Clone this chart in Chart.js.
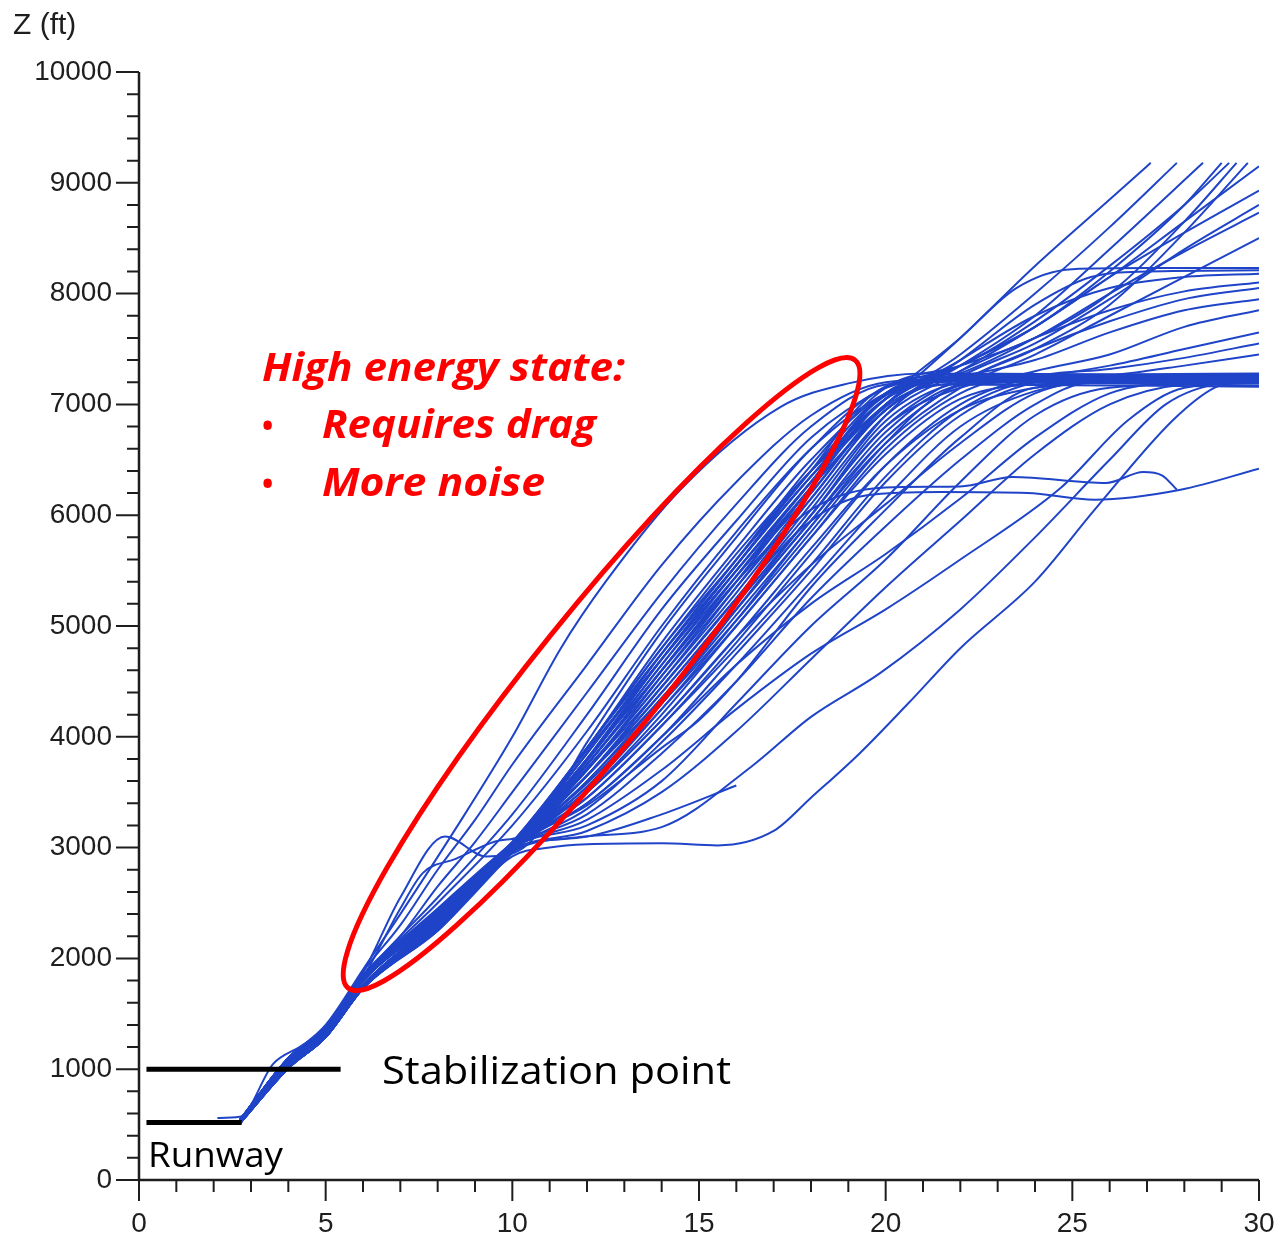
<!DOCTYPE html>
<html>
<head>
<meta charset="utf-8">
<script src="https://cdn.jsdelivr.net/npm/chart.js@4.4.1/dist/chart.umd.min.js"></script>
<style>
  html, body { margin: 0; padding: 0; background: #fff; }
  #wrap { width: 1284px; height: 1240px; }
</style>
</head>
<body>
<div id="wrap"><canvas id="approachChart" width="1284" height="1240"></canvas></div>
<script>
// axis tick labels
const xTicks = [0, 5, 10, 15, 20, 25, 30];
const zTicks = [0, 1000, 2000, 3000, 4000, 5000, 6000, 7000, 8000, 9000, 10000];

// trajectories, each one a list of [distance, altitude ft]

// main bundle, levelling off at ~7200 ft
const levelOff = [
  [[2.7,520],[4,1040],[5,1320],[6,1760],[8,2300],[10,2980],[12,3700],[14,4450],[16,5250],[18,6050],[20,6900],[21,7150],[23,7200],[26,7190],[30,7170]],
  [[2.7,530],[4,1070],[5,1350],[6,1800],[8,2380],[10,3020],[12,3800],[14,4600],[16,5400],[18,6250],[20,7050],[21.5,7220],[25,7230],[30,7210]],
  [[2.7,510],[4,1010],[5,1290],[6,1730],[8,2250],[10,2950],[12,3600],[14,4300],[16,5050],[18,5850],[20,6650],[21.5,7100],[23,7230],[27,7240],[30,7230]],
  [[2.7,540],[4,1100],[5,1380],[6,1830],[8,2420],[10,3050],[12,3900],[14,4800],[16,5600],[18,6400],[19.5,7050],[21,7250],[25,7260],[30,7250]],
  [[2.7,520],[4,1040],[5,1320],[6,1760],[8,2320],[10,3000],[12,3650],[14,4350],[16,5150],[18,5950],[20,6750],[22,7170],[24,7200],[30,7190]],
  [[2.7,530],[4,1070],[5,1350],[6,1800],[8,2400],[10,3000],[12,3550],[14,4250],[16,5000],[18,5800],[20,6550],[22,7050],[24,7180],[27,7200],[30,7200]],
  [[2.7,510],[4,1010],[5,1290],[6,1730],[8,2280],[10,2990],[12,3850],[14,4700],[16,5500],[18,6300],[19.5,6950],[21,7200],[24,7210],[30,7230]],
  [[2.7,520],[4,1040],[5,1320],[6,1760],[8,2350],[10,3010],[12,3750],[14,4550],[16,5350],[18,6150],[20,6950],[22,7260],[26,7270],[30,7280]],
  [[2.7,540],[4,1100],[5,1380],[6,1830],[8,2450],[10,3040],[12,3500],[14,4150],[16,4900],[18,5700],[20,6450],[22,6950],[24,7150],[26,7200],[30,7190]],
  [[2.7,530],[4,1070],[5,1350],[6,1800],[8,2360],[10,3000],[12,3780],[14,4650],[16,5450],[18,6200],[20,6980],[21.5,7180],[30,7160]],
  [[2.7,510],[4,1010],[5,1290],[6,1730],[8,2300],[10,2980],[12,3350],[14,3950],[16,4650],[18,5400],[20,6150],[22,6800],[24,7120],[26,7210],[30,7220]],
  [[2.7,520],[4,1040],[5,1320],[6,1760],[8,2330],[10,3000],[12,3450],[14,4100],[16,4800],[18,5550],[20,6350],[22,6950],[24,7200],[30,7210]],
  [[2.7,530],[4,1070],[5,1350],[6,1800],[8,2380],[10,3020],[12,3900],[14,4750],[16,5550],[18,6350],[20,7100],[21,7230],[25,7250],[30,7270]],
  [[2.7,540],[4,1100],[5,1380],[6,1830],[8,2400],[10,3030],[12,3650],[14,4400],[16,5200],[18,6000],[20,6800],[22,7150],[24,7240],[30,7240]]
];

// tracks that keep climbing to the top right
const climbers = [
  [[2.7,520],[4,1040],[5,1320],[6,1760],[8,2350],[10,3000],[12,3900],[14,4800],[16,5650],[18,6400],[20,7000],[22,7600],[24,8250],[26,8850],[27.1,9180]],
  [[2.7,530],[4,1070],[5,1350],[6,1800],[8,2400],[10,3020],[12,3800],[14,4700],[16,5550],[18,6350],[20,7000],[22,7450],[24,8000],[26,8600],[27.8,9180]],
  [[2.7,510],[4,1010],[5,1290],[6,1730],[8,2300],[10,2990],[12,3700],[14,4550],[16,5400],[18,6250],[20,6950],[22,7350],[24,7800],[26,8400],[28.5,9180]],
  [[2.7,520],[4,1040],[5,1320],[6,1760],[8,2320],[10,3000],[12,3750],[14,4600],[16,5450],[18,6300],[20,7050],[22,7350],[24,7700],[26,8200],[28,8800],[29,9180]],
  [[2.7,540],[4,1100],[5,1380],[6,1830],[8,2420],[10,3040],[12,3850],[14,4750],[16,5600],[18,6450],[20,7150],[22,7350],[24,7600],[26,8000],[28,8650],[29.4,9180]],
  [[2.7,530],[4,1070],[5,1350],[6,1800],[8,2380],[10,3010],[12,3600],[14,4350],[16,5150],[18,5950],[20,6700],[22,7200],[24,7500],[26,7900],[28,8550],[29.7,9180]],
  [[2.7,510],[4,1010],[5,1290],[6,1730],[8,2280],[10,2980],[12,3650],[14,4450],[16,5250],[18,6100],[20,6900],[22,7300],[24,7700],[26,8150],[28,8650],[30,9150]],
  [[2.7,520],[4,1040],[5,1320],[6,1760],[8,2340],[10,3000],[12,3720],[14,4500],[16,5350],[18,6200],[20,7000],[22,7350],[24,7700],[26,8150],[28,8550],[30,8930]],
  [[2.7,530],[4,1070],[5,1350],[6,1800],[8,2390],[10,3010],[12,3580],[14,4300],[16,5150],[18,6000],[20,6800],[22,7250],[24,7550],[26,7950],[28,8400],[30,8800]],
  [[2.7,540],[4,1100],[5,1380],[6,1830],[8,2430],[10,3040],[12,3880],[14,4700],[16,5500],[18,6300],[20,7100],[22,7280],[24,7600],[26,8000],[28,8380],[30,8730]],
  [[2.7,510],[4,1010],[5,1290],[6,1730],[8,2270],[10,2970],[12,3520],[14,4250],[16,5050],[18,5900],[20,6650],[22,7150],[24,7450],[26,7800],[28,8150],[30,8500]]
];

// tracks ending between 7400 and 8250 ft
const upperFan = [
  [[2.7,520],[4,1040],[5,1320],[6,1760],[8,2340],[10,3000],[12,3800],[14,4650],[16,5500],[18,6300],[20,7000],[22,7400],[24,7800],[26,8050],[28,8150],[30,8180]],
  [[2.7,530],[4,1070],[5,1350],[6,1800],[8,2390],[10,3010],[12,3700],[14,4500],[16,5300],[18,6150],[20,6950],[22,7300],[24,7600],[26,7850],[28,8020],[30,8100]],
  [[2.7,510],[4,1010],[5,1290],[6,1730],[8,2290],[10,2980],[12,3550],[14,4300],[16,5100],[18,5900],[20,6700],[22,7200],[24,7500],[26,7750],[28,7950],[30,8050]],
  [[2.7,540],[4,1100],[5,1380],[6,1830],[8,2430],[10,3040],[12,3800],[14,4700],[16,5550],[18,6400],[20,7100],[22,7250],[24,7400],[26,7650],[28,7850],[30,7950]],
  [[2.7,520],[4,1040],[5,1320],[6,1760],[8,2310],[10,2990],[12,3500],[14,4200],[16,5000],[18,5800],[20,6600],[22,7100],[24,7300],[26,7450],[28,7700],[30,7850]],
  [[2.7,530],[4,1070],[5,1350],[6,1800],[8,2370],[10,3000],[12,3650],[14,4400],[16,5200],[18,6000],[20,6850],[22,7200],[24,7250],[26,7350],[28,7500],[30,7650]],
  [[2.7,510],[4,1010],[5,1290],[6,1730],[8,2260],[10,2970],[12,3450],[14,4100],[16,4850],[18,5650],[20,6450],[22,7000],[24,7250],[26,7320],[28,7420],[30,7550]],
  [[2.7,520],[4,1040],[5,1320],[6,1760],[8,2330],[10,3000],[12,3400],[14,4000],[16,4750],[18,5500],[20,6300],[22,6900],[24,7200],[26,7260],[28,7350],[30,7450]],
  [[2.7,530],[4,1070],[5,1350],[6,1800],[8,2400],[10,3020],[12,3850],[14,4750],[16,5600],[18,6400],[20,7050],[22,7600],[23.5,8050],[25,8220],[27,8230],[30,8230]],
  [[2.7,540],[4,1100],[5,1380],[6,1830],[8,2440],[10,3050],[12,3750],[14,4600],[16,5450],[18,6250],[20,6950],[22,7400],[24,7900],[25.5,8150],[27,8200],[30,8210]]
];

// steep, high energy tracks inside the red ellipse
const highEnergy = [
  [[2.7,540],[4,1100],[5,1400],[6,1900],[7,2400],[8.5,3180],[10,4000],[11.3,4800],[12.5,5400],[14.5,6230],[17.2,6980],[19,7190],[21,7280],[23,7260],[26,7250],[30,7260]],
  [[2.7,530],[4,1080],[5,1380],[6,1870],[7,2550],[8.2,3100],[9.3,2920],[10.3,3000],[12,3800],[14,4700],[16,5550],[18,6350],[20,7050],[22,7220],[30,7230]],
  [[2.7,540],[4,1100],[5,1380],[6,1830],[7,2450],[7.6,2770],[8.5,2900],[9.5,3050],[10.5,3150],[12,3950],[14,4950],[16,5800],[18,6600],[20,7150],[22,7230],[30,7220]],
  [[2.7,530],[4,1080],[5,1370],[6,1880],[7,2300],[8,2800],[9,3250],[10,3750],[12,4650],[14,5550],[16,6300],[18,6900],[20,7200],[22,7230],[30,7210]],
  [[2.7,520],[4,1060],[5,1350],[6,1850],[7,2200],[8,2650],[9,3050],[10,3500],[12,4400],[14,5300],[16,6100],[18,6800],[20,7180],[23,7220],[30,7200]],
  [[2.7,530],[4,1070],[5,1350],[6,1830],[8,2550],[10,3300],[12,4200],[14,5150],[16,5950],[18,6700],[20,7150],[22,7350],[24,7750],[26,8250],[28,8800],[29.2,9180]],
  [[2.7,520],[4,1050],[5,1330],[6,1820],[8,2500],[10,3200],[12,4050],[14,5000],[16,5850],[18,6600],[20,7100],[22,7280],[30,7260]],
  [[2.1,560],[2.7,570],[3.6,1050],[4.3,1200],[5,1360],[6,1800],[8,2420],[10,3050],[12,3900],[14,4850],[16,5700],[18,6500],[20,7100],[22,7250],[24,7260],[30,7250]]
];

// slower tracks fanning out below the bundle
const lowFan = [
  [[2.7,510],[4,1010],[5,1290],[6,1730],[8,2250],[10,2920],[11,3000],[12,3030],[14,3040],[15.5,3020],[17,3150],[18,3450],[19.3,3850],[20.6,4300],[22,4800],[24,5400],[25.6,6050],[27.7,6860],[28.8,7150],[30,7250]],
  [[2.7,520],[4,1040],[5,1320],[6,1760],[8,2280],[10,2960],[11.8,3095],[14,3185],[16.4,3730],[18,4180],[19.85,4575],[22,5150],[24,5800],[26,6500],[27.5,7000],[29,7200],[30,7230]],
  [[2.7,530],[4,1070],[5,1350],[6,1800],[8,2350],[10,2990],[12,3250],[14,3700],[16,4250],[18,4750],[20,5150],[22,5600],[24.7,6250],[26.5,6860],[28,7150],[30,7200]],
  [[2.7,540],[4,1100],[5,1380],[6,1830],[8,2400],[10,3000],[12,3400],[14,4000],[16,4650],[18,5200],[20,5650],[22,6150],[24,6700],[26,7100],[28,7200],[30,7210]],
  [[2.7,520],[4,1040],[5,1320],[6,1760],[8,2320],[10,3000],[12,3500],[14,4150],[16,4900],[18,5550],[20,6100],[22,6650],[24,7100],[26,7220],[30,7230]],
  [[2.7,510],[4,1010],[5,1290],[6,1730],[8,2270],[10,2970],[12,3150],[14,3500],[16,4050],[18,4700],[20,5350],[22,5950],[24,6550],[26,7000],[28,7180],[30,7200]],
  [[2.7,530],[4,1070],[5,1350],[6,1800],[8,2360],[10,3000],[12,3300],[14,3850],[16,4500],[18,5250],[20,5900],[22,6500],[24,7000],[25.5,7200],[30,7220]],
  [[2.7,520],[4,1040],[5,1320],[6,1760],[8,2330],[10,3000],[12,3200],[14,3600],[16,4300],[18,5000],[20,5600],[22,6300],[24,6900],[26,7150],[30,7200]],
  [[2.7,540],[4,1100],[5,1380],[6,1830],[8,2410],[10,3020],[12,3380],[14,3900],[15,4150],[16,4500],[18,5350],[20,6050],[22,6700],[24,7150],[30,7230]],
  [[2.7,510],[4,1010],[5,1290],[6,1730],[8,2290],[10,2990],[12,3100],[14,3300],[16,3560]]
];

// two tracks that hold near 6200 ft
const midLevel = [
  [[2.7,520],[4,1040],[5,1320],[6,1760],[8,2340],[10,3000],[12,3650],[14,4450],[16,5250],[18,5950],[19.5,6180],[21.5,6210],[23.8,6200],[25.6,6140],[27.9,6230],[30,6420]],
  [[2.7,540],[4,1100],[5,1380],[6,1830],[8,2420],[10,3030],[12,3750],[14,4600],[16,5400],[18,6050],[20,6250],[22,6260],[23.4,6345],[25.9,6290],[26.9,6390],[27.4,6360],[27.8,6230]]
];

// annotation marks, in data units
const stabilizationBar = { from: 0.2, to: 5.4, z: 1000 };
const runwayBar = { from: 0.2, to: 2.75, z: 520 };
const ellipseTips = [[5.6, 1733], [19.18, 7400]];

const allTracks = [].concat(levelOff, climbers, upperFan, highEnergy, lowFan, midLevel);

const datasets = allTracks.map(t => ({
  data: t.map(p => ({ x: p[0], y: p[1] })),
  borderColor: '#1f44c8',
  borderWidth: 2,
  pointRadius: 0,
  fill: false,
  cubicInterpolationMode: 'monotone'
}));

const axisColor = '#1e1e1e';
const tickFont = { family: '"Liberation Sans", Arial, sans-serif', size: 28 };

// draw text squeezed or stretched to a given width
function fitText(ctx, text, left, baseline, width) {
  const w = ctx.measureText(text).width;
  ctx.save();
  ctx.translate(left, baseline);
  ctx.scale(width / w, 1);
  ctx.fillText(text, 0, 0);
  ctx.restore();
}

const decor = {
  id: 'decor',
  afterDatasetsDraw(chart) {
    const { ctx, scales: { x, y } } = chart;
    ctx.save();

    // black bars
    ctx.strokeStyle = '#000';
    ctx.lineWidth = 5;
    [stabilizationBar, runwayBar].forEach(b => {
      ctx.beginPath();
      ctx.moveTo(x.getPixelForValue(b.from), y.getPixelForValue(b.z));
      ctx.lineTo(x.getPixelForValue(b.to), y.getPixelForValue(b.z));
      ctx.stroke();
    });

    // red ellipse
    const ax = x.getPixelForValue(ellipseTips[0][0]), ay = y.getPixelForValue(ellipseTips[0][1]);
    const bx = x.getPixelForValue(ellipseTips[1][0]), by = y.getPixelForValue(ellipseTips[1][1]);
    const semiMajor = Math.hypot(bx - ax, by - ay) / 2;
    ctx.strokeStyle = '#ff0000';
    ctx.lineWidth = 5;
    ctx.beginPath();
    ctx.ellipse((ax + bx) / 2, (ay + by) / 2, semiMajor, 64, Math.atan2(by - ay, bx - ax), 0, Math.PI * 2);
    ctx.stroke();
    ctx.restore();
  },
  afterDraw(chart) {
    const { ctx, chartArea: ca, scales: { x, y } } = chart;
    ctx.save();

    // axis lines
    ctx.strokeStyle = axisColor;
    ctx.lineWidth = 2.5;
    ctx.beginPath();
    ctx.moveTo(ca.left, ca.top);
    ctx.lineTo(ca.left, ca.bottom);
    ctx.lineTo(ca.right, ca.bottom);
    ctx.stroke();

    // tick marks, major and minor
    ctx.lineWidth = 2;
    ctx.beginPath();
    for (let i = 0; i <= 30; i++) {
      const px = x.getPixelForValue(i);
      ctx.moveTo(px, ca.bottom);
      ctx.lineTo(px, ca.bottom + (i % 5 === 0 ? 21 : 12));
    }
    for (let v = 0; v <= 10000; v += 200) {
      const py = y.getPixelForValue(v);
      ctx.moveTo(ca.left, py);
      ctx.lineTo(ca.left - (v % 1000 === 0 ? 23 : 12), py);
    }
    ctx.stroke();

    // axis title
    ctx.fillStyle = axisColor;
    ctx.font = '30px "Liberation Sans", Arial, sans-serif';
    ctx.textBaseline = 'alphabetic';
    ctx.textAlign = 'left';
    ctx.fillText('Z (ft)', 13, 34);

    // red annotation
    ctx.fillStyle = '#ff0000';
    ctx.font = 'italic bold 39px "Open Sans", Lato, sans-serif';
    fitText(ctx, 'High energy state:', 262, 381, 363);
    fitText(ctx, 'Requires drag', 322, 438, 274);
    fitText(ctx, 'More noise', 322, 496, 223);
    ctx.font = 'bold 30px "Open Sans", sans-serif';
    ctx.fillText('\u2022', 262, 436);
    ctx.fillText('\u2022', 262, 494);

    // black labels
    ctx.fillStyle = '#000';
    ctx.font = '39px "Open Sans", Lato, sans-serif';
    fitText(ctx, 'Stabilization point', 382, 1084, 349);
    ctx.font = '35px "Open Sans", Lato, sans-serif';
    fitText(ctx, 'Runway', 148, 1167, 135);
    ctx.restore();
  }
};

new Chart(document.getElementById('approachChart'), {
  type: 'line',
  data: { datasets: datasets },
  options: {
    responsive: false,
    animation: false,
    events: [],
    layout: { padding: { top: 72, right: 25, left: 0, bottom: 0 } },
    plugins: { legend: { display: false }, tooltip: { enabled: false } },
    scales: {
      x: {
        type: 'linear',
        min: 0,
        max: 30,
        afterBuildTicks: s => { s.ticks = xTicks.map(v => ({ value: v })); },
        afterFit: s => { s.height = 60; },
        border: { display: false },
        grid: { display: true, drawOnChartArea: false, drawTicks: true, tickLength: 21, color: 'rgba(0,0,0,0)' },
        ticks: { font: tickFont, color: axisColor, padding: 6, maxRotation: 0 }
      },
      y: {
        type: 'linear',
        min: 0,
        max: 10000,
        afterBuildTicks: s => { s.ticks = zTicks.map(v => ({ value: v })); },
        afterFit: s => { s.width = 139; },
        border: { display: false },
        grid: { display: true, drawOnChartArea: false, drawTicks: true, tickLength: 23, color: 'rgba(0,0,0,0)' },
        ticks: { font: tickFont, color: axisColor, padding: 4, callback: v => String(v) }
      }
    }
  },
  plugins: [decor]
});
</script>
</body>
</html>
